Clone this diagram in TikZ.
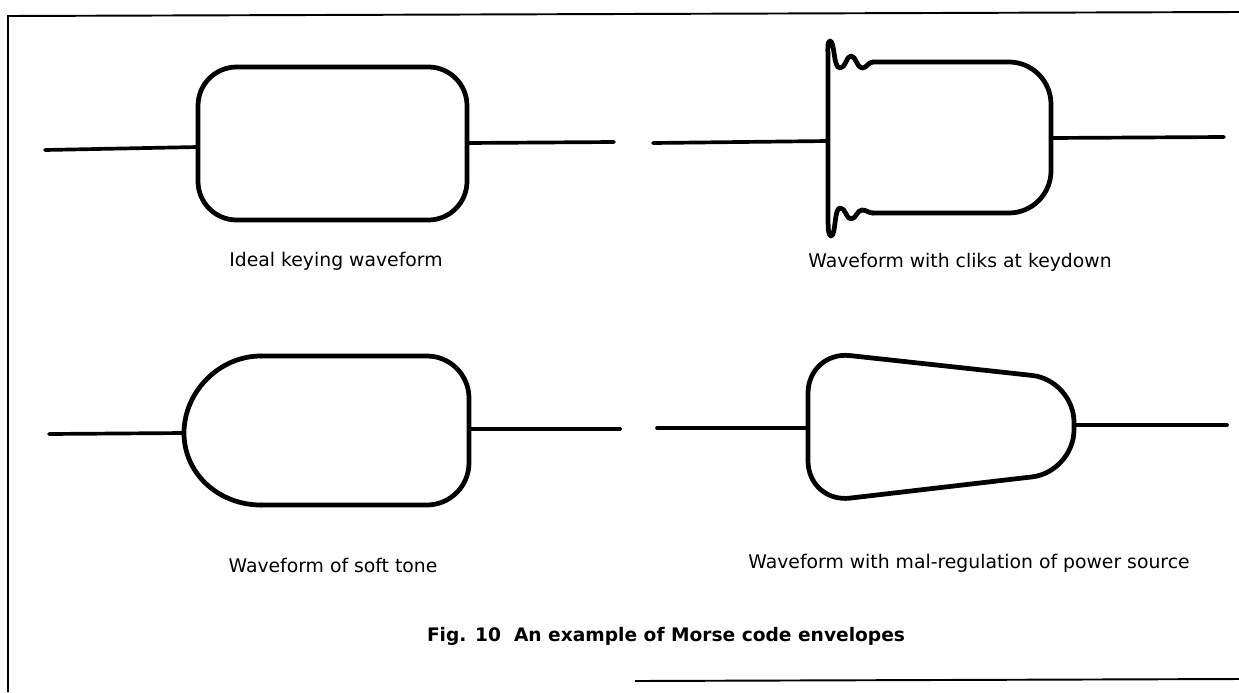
\documentclass[tikz,border=0pt]{standalone}
\usepackage{fontspec}
\setmainfont{DejaVu Sans}
\usetikzlibrary{positioning}

\begin{document}
\begin{tikzpicture}
  [x=0.2mm,y=-0.2mm,
  wave/.style={line width=2.7pt,line cap=round,line join=round},
  lead/.style={line width=2.1pt,line cap=round},
  frame/.style={line width=1.1pt},
  lbl/.style={font=\fontsize{10.7}{12}\selectfont,inner sep=0pt},
  figcap/.style={font=\fontsize{10.6}{12}\selectfont\bfseries,inner sep=0pt}]
  \useasboundingbox (0,0) rectangle (1239,692);

  % frame
  \draw[frame] (8,692) -- (8,16) -- (1239,12);
  \draw[frame] (635,681) -- (1239,679);

  % ideal keying
  \coordinate (11) at (45,150);
  \coordinate (12) at (198,147);
  \coordinate (13) at (467,143);
  \coordinate (14) at (614,142);
  \draw[lead] (11) -- (12);
  \draw[wave,rounded corners=22] (198,67) rectangle (467,220);
  \draw[lead] (13) -- (14);
  \node[lbl] (l1) at (336,261) {Ideal keying waveform};

  % clicks at keydown
  \coordinate (21) at (653,143);
  \coordinate (22) at (828,141);
  \coordinate (23) at (1051,138);
  \coordinate (24) at (1224,137);
  \draw[lead] (21) -- (22);
  \draw[wave] (873,62) .. controls (868,62) and (867,68) .. (862,68)
    .. controls (857,68) and (856,56) .. (851,56)
    .. controls (846,56) and (846,68) .. (840,68)
    .. controls (833,68) and (835,41) .. (830,41)
    .. controls (827,41) and (828,50) .. (828,62)
    -- (828,213)
    .. controls (828,226) and (828,236) .. (831,236)
    .. controls (836,236) and (834,208) .. (840,208)
    .. controls (846,208) and (846,219) .. (851,219)
    .. controls (856,219) and (857,210) .. (862,210)
    .. controls (867,210) and (868,213) .. (873,213);
  \draw[wave,rounded corners=24] (873,62) -- (1051,62) -- (1051,213) -- (873,213);
  \draw[lead] (23) -- (24);
  \node[lbl] (l2) at (960,262) {Waveform with cliks at keydown};

  % soft tone
  \coordinate (31) at (49,434);
  \coordinate (32) at (184,433);
  \coordinate (33) at (469,429);
  \coordinate (34) at (620,429);
  \draw[lead] (31) -- (32);
  \draw[wave] (261,356) .. controls (219,356) and (184,392) .. (32)
    .. controls (184,474) and (219,505) .. (261,505);
  \draw[wave,rounded corners=24] (261,356) -- (469,356) -- (469,505) -- (261,505);
  \draw[lead] (33) -- (34);
  \node[lbl] (l3) at (333,565) {Waveform of soft tone};

  % mal-regulation
  \coordinate (41) at (657,428);
  \coordinate (42) at (808,428);
  \coordinate (43) at (1074,425);
  \coordinate (44) at (1227,425);
  \draw[lead] (41) -- (42);
  \draw[wave,rounded corners=24] (808,351) -- (1074,380) -- (1074,472) -- (808,503) -- cycle;
  \draw[lead] (43) -- (44);
  \node[lbl] (l4) at (969,563) {Waveform with mal-regulation of power source};

  \node[figcap] (fig) at (666,636) {Fig. 10\ \ An example of Morse code envelopes};
\end{tikzpicture}
\end{document}
